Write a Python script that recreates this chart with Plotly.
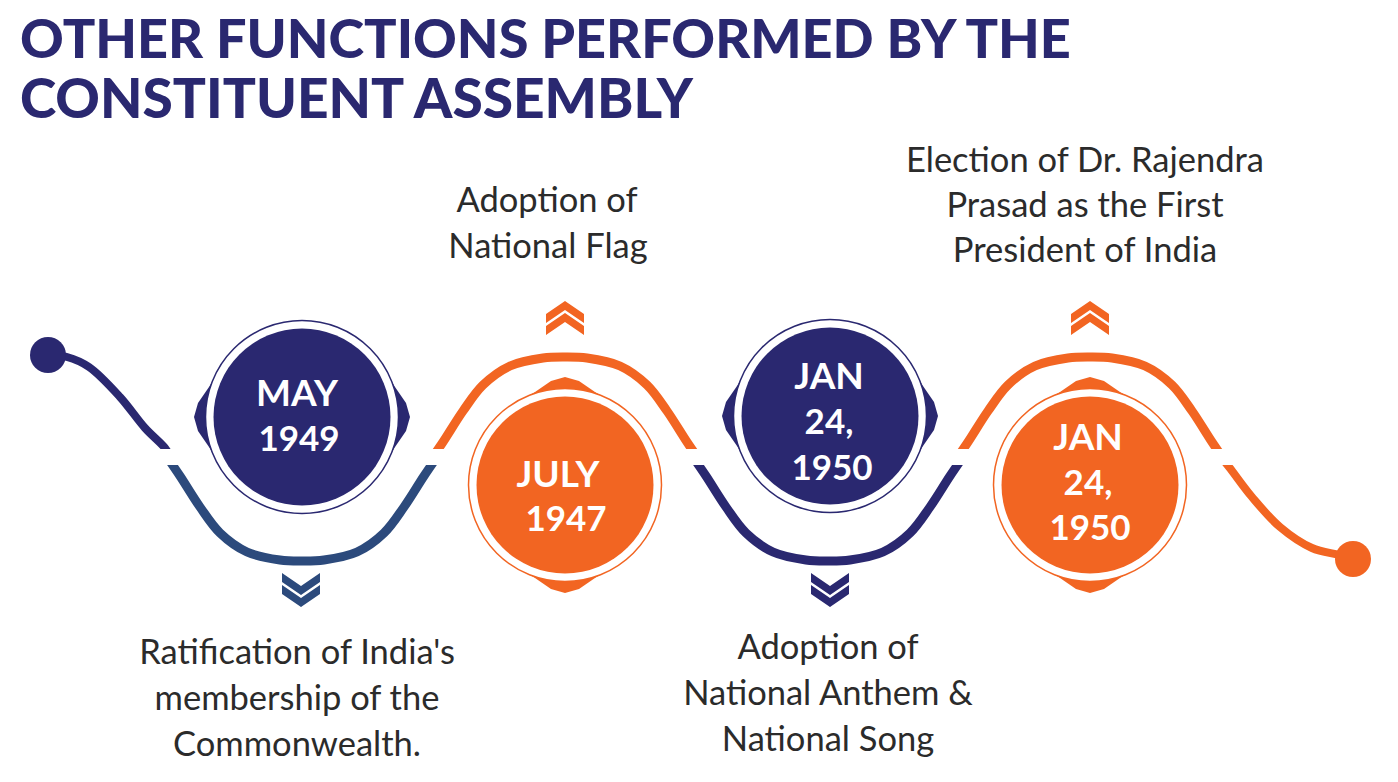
import plotly.graph_objects as go

# cores
NAVY = '#2a2870'
STEEL = '#2c4a7c'
ORANGE = '#f26522'
TEXT = '#2b2b2b'

# titulo
title_lines = ['OTHER FUNCTIONS PERFORMED BY THE', 'CONSTITUENT ASSEMBLY']
title_x = [20, 20]
title_y = [44, 104]
title_size = [54, 55]

# textos das etapas
desc_lines = ['Ratification of India\'s', 'membership of the', 'Commonwealth.',
              'Adoption of', 'National Flag',
              'Adoption of', 'National Anthem &', 'National Song',
              'Election of Dr. Rajendra', 'Prasad as the First', 'President of India']
desc_x = [297, 297, 297, 547, 548, 828, 828, 828, 1085, 1085, 1085]
desc_y = [655, 701, 747, 203, 249, 650, 696, 742, 163, 208, 253]

# datas dentro dos circulos
date_lines = ['MAY', '1949', 'JULY', '1947', 'JAN', '24,', '1950', 'JAN', '24,', '1950']
date_x = [297, 299, 558, 566, 829, 829, 832, 1088, 1088, 1090]
date_y = [397, 442, 478, 522, 380, 425, 471, 441, 486, 531]
date_size = [37, 35, 37, 35, 37, 35, 35, 37, 35, 35]

# circulos
circle_x = [302, 565, 830, 1090]
circle_y = [417, 485, 416, 485]
circle_color = [NAVY, ORANGE, NAVY, ORANGE]

# curvas
start_x = [48, 67, 89, 120, 145, 165, 170]
start_y = [355, 357, 367, 397, 428, 448, 456]
low1_x = [167, 180, 200, 220, 247, 280, 302, 324, 357, 384, 404, 424, 437]
low1_y = [457, 476, 507, 533, 552, 560, 561, 560, 552, 533, 507, 476, 457]
up1_x = [430, 443, 463, 483, 510, 543, 565, 587, 620, 647, 667, 687, 700]
up1_y = [461, 442, 411, 385, 366, 358, 357, 358, 366, 385, 411, 442, 461]
low2_x = [693, 706, 726, 746, 773, 806, 828, 850, 883, 910, 930, 950, 963]
low2_y = [457, 476, 507, 533, 552, 560, 561, 560, 552, 533, 507, 476, 457]
up2_x = [955, 968, 988, 1008, 1035, 1068, 1090, 1112, 1145, 1172, 1192, 1212, 1225]
up2_y = [461, 442, 411, 385, 366, 358, 357, 358, 366, 385, 411, 442, 461]
tail_x = [1219, 1229, 1252, 1280, 1312, 1339, 1353]
tail_y = [455, 467, 497, 527, 548, 555, 559]

dot_x = [48, 1353]
dot_y = [355, 559]
dot_color = [NAVY, ORANGE]

# setas duplas
chevron_x = [301, 565, 830, 1090]
chevron_dir = ['down', 'up', 'down', 'up']
chevron_color = [STEEL, ORANGE, NAVY, ORANGE]

# pontas dos circulos, distancia a partir do centro
tip_long = [75, 93, 104, 108, 104, 93, 75]
tip_wide = [-60, -30, -14, 0, 14, 30, 60]

fig = go.Figure()


def curva(x, y, cor, largura=9):
    fig.add_trace(go.Scatter(x=x, y=y, mode='lines', hoverinfo='skip',
                             line=dict(color=cor, width=largura, shape='spline', smoothing=1)))


def poligono(x, y, cor, borda=0):
    fig.add_trace(go.Scatter(x=x, y=y, mode='lines', fill='toself', fillcolor=cor, hoverinfo='skip',
                             line=dict(color=cor, width=borda)))


curva(start_x, start_y, NAVY, 8)
curva(low1_x, low1_y, STEEL)
curva(up1_x, up1_y, ORANGE)
curva(low2_x, low2_y, NAVY)
curva(up2_x, up2_y, ORANGE)
curva(tail_x, tail_y, ORANGE, 8)

# faixa branca que corta as curvas
poligono([0, 1398, 1398, 0, 0], [449, 449, 465, 465, 449], 'white')

# pontas dos circulos
for cx, cy, cor in zip(circle_x, circle_y, circle_color):
    if cor == NAVY:
        poligono([cx - a for a in tip_long], [cy + b for b in tip_wide], cor)
        poligono([cx + a for a in tip_long], [cy + b for b in tip_wide], cor)
    else:
        poligono([cx + b for b in tip_wide], [cy - a for a in tip_long], cor)
        poligono([cx + b for b in tip_wide], [cy + a for a in tip_long], cor)

# anel e disco
fig.add_trace(go.Scatter(x=circle_x, y=circle_y, mode='markers', hoverinfo='skip',
                         marker=dict(size=193, color='white', line=dict(color=circle_color, width=1.5))))
fig.add_trace(go.Scatter(x=circle_x, y=circle_y, mode='markers', hoverinfo='skip',
                         marker=dict(size=177, color=circle_color, line=dict(width=0))))
fig.add_trace(go.Scatter(x=dot_x, y=dot_y, mode='markers', hoverinfo='skip',
                         marker=dict(size=36, color=dot_color, line=dict(width=0))))

# setas
for cx, d, cor in zip(chevron_x, chevron_dir, chevron_color):
    if d == 'up':
        for t in [301, 313]:
            poligono([cx - 19, cx, cx + 19, cx + 19, cx, cx - 19, cx - 19],
                     [t + 13, t, t + 13, t + 22, t + 9, t + 22, t + 13], cor)
    else:
        for b in [607, 595]:
            poligono([cx - 19, cx, cx + 19, cx + 19, cx, cx - 19, cx - 19],
                     [b - 13, b, b - 13, b - 22, b - 9, b - 22, b - 13], cor)

# textos
fig.add_trace(go.Scatter(x=title_x, y=title_y, text=title_lines, mode='text', textposition='middle right',
                         hoverinfo='skip', textfont=dict(family='Lato', size=title_size, color=NAVY, weight=900)))
fig.add_trace(go.Scatter(x=desc_x, y=desc_y, text=desc_lines, mode='text', textposition='middle center',
                         hoverinfo='skip', textfont=dict(family='Lato', size=34.5, color=TEXT)))
fig.add_trace(go.Scatter(x=date_x, y=date_y, text=date_lines, mode='text', textposition='middle center',
                         hoverinfo='skip', textfont=dict(family='Lato', size=date_size, color='white', weight=700)))

fig.update_layout(width=1398, height=782, margin=dict(l=0, r=0, t=0, b=0), showlegend=False,
                  plot_bgcolor='white', paper_bgcolor='white',
                  xaxis=dict(range=[0, 1398], visible=False),
                  yaxis=dict(range=[782, 0], visible=False))

fig.write_html("out.html", config=dict(displayModeBar=False), post_script="document.body.style.margin='0';")
